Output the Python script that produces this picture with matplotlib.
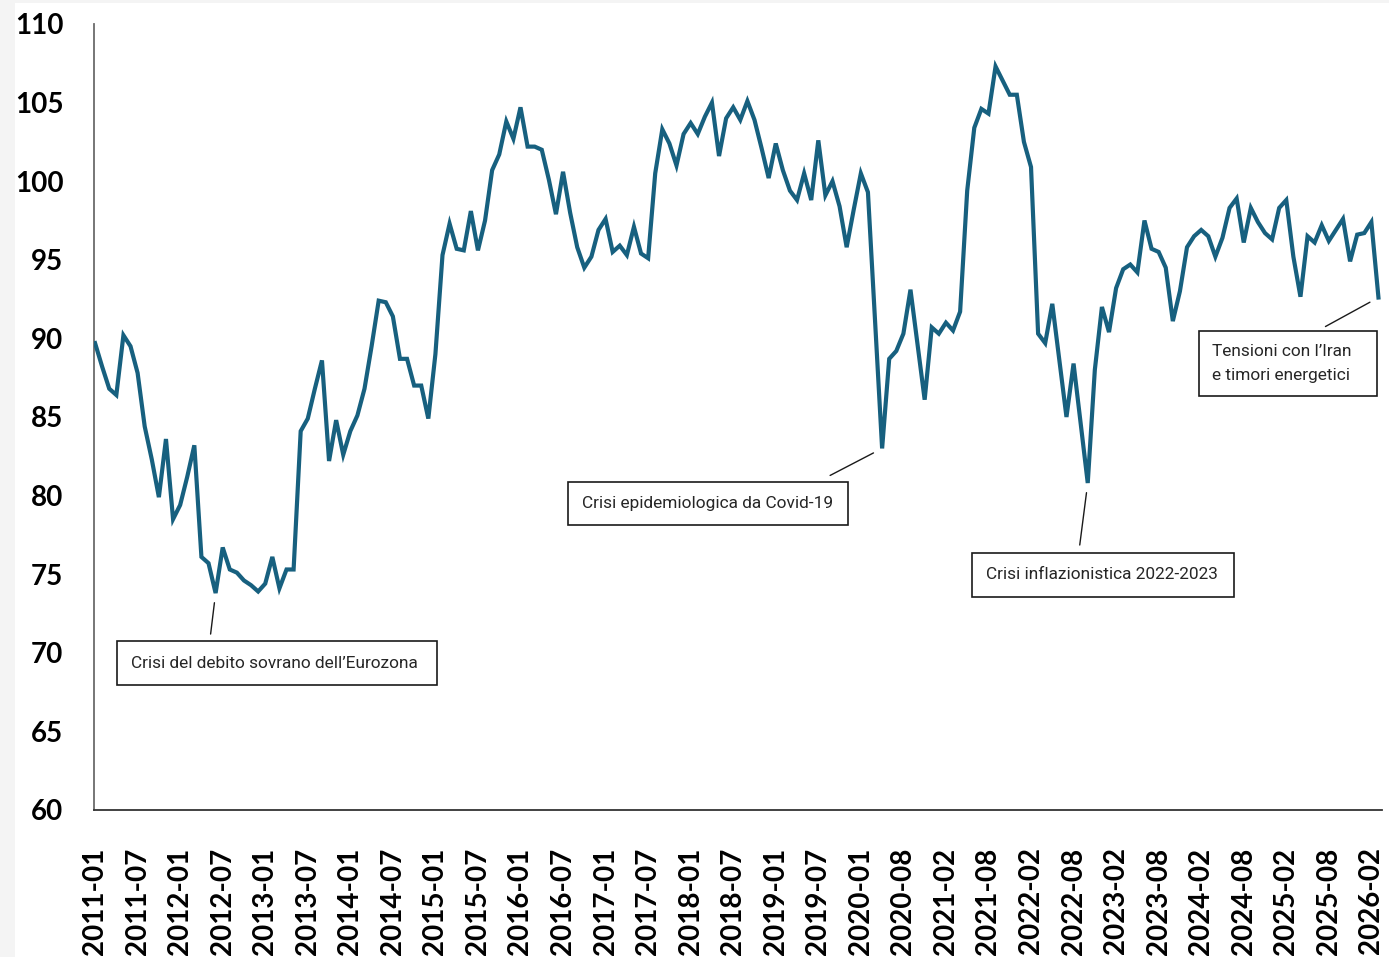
#coding=utf-8

import matplotlib
matplotlib.use("Agg")
import matplotlib.pyplot as plt
from matplotlib.patches import Rectangle
import numpy as np

# indice mensile (aprile 2020 non rilevato)
v2011 = [89.7, 88.2, 86.8, 86.4, 90.2, 89.5, 87.8, 84.4, 82.3, 79.9, 83.6, 78.5]
v2012 = [79.4, 81.2, 83.2, 76.1, 75.7, 73.8, 76.7, 75.3, 75.1, 74.6, 74.3, 73.9]
v2013 = [74.4, 76.1, 74.1, 75.3, 75.3, 84.1, 84.9, 86.8, 88.6, 82.2, 84.8, 82.6]
v2014 = [84.1, 85.1, 86.8, 89.5, 92.4, 92.3, 91.4, 88.7, 88.7, 87.0, 87.0, 84.9]
v2015 = [89.0, 95.3, 97.3, 95.7, 95.6, 98.1, 95.6, 97.5, 100.7, 101.7, 103.8, 102.7]
v2016 = [104.7, 102.2, 102.2, 102.0, 100.1, 97.9, 100.6, 98.0, 95.8, 94.5, 95.2, 96.9]
v2017 = [97.6, 95.5, 95.9, 95.3, 97.1, 95.4, 95.1, 100.5, 103.3, 102.4, 101.0, 103.0]
v2018 = [103.7, 103.0, 104.1, 105.0, 101.6, 104.0, 104.7, 103.9, 105.1, 103.9, 102.1, 100.2]
v2019 = [102.4, 100.7, 99.4, 98.8, 100.5, 98.8, 102.6, 99.1, 100.0, 98.4, 95.8, 98.2]
v2020 = [100.5, 99.3, 91.2, 83.0, 88.7, 89.2, 90.3, 93.1, 89.6, 86.1, 90.7]
v2021 = [90.3, 91.0, 90.5, 91.7, 99.4, 103.4, 104.6, 104.3, 107.3, 106.4, 105.5, 105.5]
v2022 = [102.5, 100.9, 90.3, 89.7, 92.2, 88.6, 85.0, 88.4, 84.6, 80.8, 88.0, 92.0]
v2023 = [90.4, 93.2, 94.4, 94.7, 94.2, 97.5, 95.7, 95.5, 94.5, 91.1, 93.0, 95.8]
v2024 = [96.5, 96.9, 96.5, 95.2, 96.4, 98.3, 98.9, 96.1, 98.3, 97.4, 96.7, 96.3]
v2025 = [98.3, 98.8, 95.2, 92.65, 96.5, 96.1, 97.2, 96.2, 96.9, 97.6, 94.9, 96.6]
v2026 = [96.7, 97.4, 92.6]

tick_labels = ["2011-01", "2011-07", "2012-01", "2012-07", "2013-01", "2013-07",
               "2014-01", "2014-07", "2015-01", "2015-07", "2016-01", "2016-07",
               "2017-01", "2017-07", "2018-01", "2018-07", "2019-01", "2019-07",
               "2020-01", "2020-08", "2021-02", "2021-08", "2022-02", "2022-08",
               "2023-02", "2023-08", "2024-02", "2024-08", "2025-02", "2025-08",
               "2026-02"]

y_ticks = [60, 65, 70, 75, 80, 85, 90, 95, 100, 105, 110]

# (indice del punto, testo, box in coordinate assi, offset linea in pixel)
notes = [
    (17, "Crisi del debito sovrano dell\u2019Eurozona", (0.0179, 0.159, 0.2484, 0.056), (-5, -41)),
    (111, "Crisi epidemiologica da Covid-19", (0.368, 0.3626, 0.2174, 0.0547), (-52, -27)),
    (140, "Crisi inflazionistica 2022-2023", (0.6817, 0.271, 0.2034, 0.056), (-8, -62)),
    (181, "Tensioni con l\u2019Iran\ne timori energetici", (0.8579, 0.5267, 0.1382, 0.0827), (-53, -29)),
]


def plot():
    values = np.array(v2011 + v2012 + v2013 + v2014 + v2015 + v2016 + v2017 + v2018
                      + v2019 + v2020 + v2021 + v2022 + v2023 + v2024 + v2025 + v2026)
    x = np.arange(len(values))

    fig = plt.figure(figsize=(13.89, 9.57), dpi=100)
    fig.patch.set_facecolor("#f4f4f4")
    fig.patches.append(Rectangle((15 / 1389, 0), 1, 1 - 3 / 957, transform=fig.transFigure,
                                 facecolor="white", edgecolor="none", zorder=-1))
    ax = fig.add_axes([94 / 1389, 1 - 810 / 957, 1288 / 1389, 786 / 957])
    ax.set_facecolor("none")

    ax.plot(x, values, color="#17607f", lw=3, solid_joinstyle="miter", zorder=3)

    ax.set_xlim(-0.15, len(values) - 0.5)
    ax.set_ylim(60, 110)
    ax.set_yticks(y_ticks)
    ax.set_yticklabels([str(t) for t in y_ticks], fontfamily="Lato", fontweight="bold", fontsize=20)
    ax.set_xticks(x[::6])
    ax.set_xticklabels(tick_labels, rotation=90, fontfamily="Lato", fontweight="bold", fontsize=20)
    ax.tick_params(axis="y", length=0, pad=22)
    ax.tick_params(axis="x", length=0, pad=27)

    ax.spines["top"].set_visible(False)
    ax.spines["right"].set_visible(False)
    ax.spines["left"].set_color("#6b6b6b")
    ax.spines["left"].set_linewidth(1.3)
    ax.spines["bottom"].set_color("#333333")
    ax.spines["bottom"].set_linewidth(1.3)

    for idx, txt, box, off in notes:
        ax.add_patch(Rectangle((box[0], box[1]), box[2], box[3], transform=ax.transAxes,
                               facecolor="white", edgecolor="#1a1a1a", lw=1.2, zorder=4))
        ax.text(box[0] + 0.0105, box[1] + box[3] / 2, txt, transform=ax.transAxes,
                ha="left", va="center", fontsize=12.4, linespacing=1.7, color="#262626",
                family=["Roboto", "DejaVu Sans"], zorder=5)
        ax.annotate("", xy=(x[idx], values[idx]), xytext=off, textcoords="offset pixels",
                    arrowprops=dict(arrowstyle="-", color="#1a1a1a", lw=1.0,
                                    shrinkA=0, shrinkB=7))

    plt.savefig("out.png", dpi=100, facecolor=fig.get_facecolor())
    print("plot ended.")


plot()
